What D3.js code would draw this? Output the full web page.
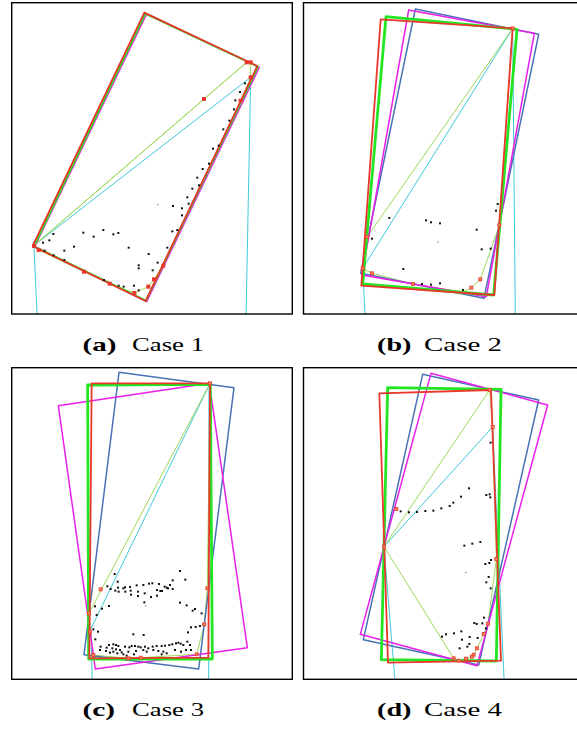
<!DOCTYPE html>
<html><head><meta charset="utf-8">
<script src="https://cdn.jsdelivr.net/npm/d3@7"></script>
<style>html,body{margin:0;padding:0;background:#fff;}svg{display:block;}</style>
</head><body>
<svg id="chart" width="577" height="729"></svg>
<script>
// ---------- DATA (units: 1/3 pixel within each panel's local window) ----------
const panels = ["a", "b", "c", "d"];
const captionLetters = ["(a)", "(b)", "(c)", "(d)"];
const captionTexts = ["Case 1", "Case 2", "Case 3", "Case 4"];

// Panel (a)
const a_rectMagenta = [[410,42],[748,202],[410,905],[74,740]];
const a_rectGreen   = [[406,41],[744,200],[408,902],[72,739]];
const a_rectRed     = [[403,38],[742,198],[407,903],[68,738]];
const a_rectBlue    = [];
const a_diagGreen = [[70,738],[710,187]];
const a_diagCyan  = [[70,738],[722,232]];
const a_cyanDown  = [[[72,740],[82,960]], [[722,232],[708,960]]];
const a_hull = [[70,738],[86,750],[222,815],[299,851],[373,879],[415,860],[432,838],[460,797],[692,302],[722,232],[720,187],[710,187]];
const a_red = [[72,738],[86,750],[222,815],[299,851],[373,879],[415,860],[432,838],[460,797],[692,302],[722,232],[710,187],[722,187],[582,297]];
const a_pts = [[705,250],[690,276],[676,301],[672,328],[658,362],[640,388],[626,437],[609,446],[597,491],[578,507],[562,533],[567,556],[547,566],[532,592],[536,611],[516,625],[489,618],[516,646],[502,690],[487,694],[472,743],[416,762],[443,788],[428,811],[386,796],[386,805],[372,857],[356,743],[325,699],[310,703],[280,690],[251,710],[220,698],[192,740],[163,752],[163,780],[130,702],[118,721],[99,728],[104,752],[131,766],[282,840],[326,857],[341,860],[386,871]];
const a_gray = [[443,614]];

// Panel (b)
const b_rectBlue    = [[340,27],[710,103],[546,895],[176,820]];
const b_rectMagenta = [[320,30],[697,100],[553,890],[180,825]];
const b_rectGreen   = [[252,50],[645,88],[575,885],[182,852]];
const b_rectRed     = [[236,58],[632,85],[577,885],[178,857]];
const b_diagGreen = [[196,710],[632,85]];
const b_diagCyan  = [[182,805],[632,85]];
const b_cyanDown  = [[[182,805],[190,960]], [[632,85],[640,960]]];
const b_hull = [[196,710],[182,805],[210,820],[333,852],[483,876],[508,863],[535,838],[592,676],[632,85]];
const b_red = [[196,710],[182,805],[210,820],[333,852],[508,863],[535,838],[592,676],[632,85]];
const b_pts = [[587,612],[582,632],[262,654],[372,661],[387,667],[414,670],[524,689],[210,716],[539,748],[566,746],[304,807],[360,852],[387,854],[414,850],[483,870]];
const b_gray = [[408,726]];

// Panel (c)
const c_rectBlue    = [[327,22],[672,68],[566,912],[222,869]];
const c_rectMagenta = [[145,122],[598,55],[712,848],[256,912]];
const c_rectGreen   = [[233,60],[601,58],[607,882],[236,882]];
const c_rectRed     = [[245,55],[600,55],[595,878],[238,880]];
const c_diagGreen = [[237,745],[600,55]];
const c_diagCyan  = [[241,795],[600,55]];
const c_cyanDown  = [[[243,800],[247,960]], [[597,60],[596,960]]];
const c_hull = [[237,745],[241,795],[250,870],[355,880],[392,878],[560,868],[583,778],[592,670],[600,55]];
const c_red = [[272,673],[237,745],[240,800],[250,870],[355,880],[392,878],[560,868],[583,778],[592,670],[600,55]];
const c_pts = [[510,618],[314,627],[323,650],[526,644],[488,646],[480,660],[474,670],[464,665],[447,657],[427,655],[417,656],[400,660],[380,661],[360,666],[345,667],[340,670],[324,668],[292,664],[302,672],[316,677],[326,680],[346,680],[362,677],[363,689],[384,693],[384,680],[404,685],[423,696],[441,692],[451,678],[441,675],[456,678],[470,668],[488,672],[403,712],
  [510,713],[530,721],[555,732],[548,737],[575,745],[297,723],[276,731],[255,724],[260,750],
  [580,778],[570,783],[557,786],[543,787],[534,802],[250,793],[264,800],[256,823],[370,808],[401,810],
  [272,845],[290,848],[297,840],[310,838],[318,840],[325,843],[307,850],[318,853],[330,855],[345,845],[358,847],[365,843],[375,843],[385,845],[392,847],[405,845],[415,850],[428,845],[440,843],[455,843],[465,842],[478,840],[487,838],[498,835],[505,833],[512,836],[520,840],[532,830],[540,840],[270,855],[288,858],[300,863],[322,865],[340,868],[350,872],[372,868],[400,855],[410,860],[430,855],[445,858],[460,860],[470,865],[495,855],[513,860],[528,855],[543,855],[455,868],[378,858],[355,860],[335,862],[310,860]];
const c_gray = [[407,722]];

// Panel (d)
const d_rectBlue    = [[362,28],[710,105],[530,900],[184,824]];
const d_rectMagenta = [[387,25],[737,120],[525,902],[175,808]];
const d_rectGreen   = [[257,68],[597,73],[583,888],[238,884]];
const d_rectRed     = [[232,85],[567,75],[597,887],[258,893]];
const d_diagGreen = [[246,545],[563,75]];
const d_diagCyan  = [[246,545],[572,186]];
const d_lowGreen  = [[246,545],[455,880]];
const d_cyanDown  = [[[246,545],[280,960]], [[572,186],[607,960]]];
const d_hull = [[455,880],[470,887],[492,881],[510,875],[515,869],[525,850],[545,807],[558,776],[583,582],[572,186],[563,75]];
const d_red = [[246,545],[283,432],[563,75],[572,186],[583,582],[558,776],[545,807],[525,850],[515,869],[510,875],[492,881],[470,887],[455,880]];
const d_pts = [[566,233],[501,370],[553,390],[563,388],[565,397],[477,395],[454,413],[443,423],[418,430],[394,437],[370,438],[345,441],[321,442],[296,439],[285,433],[487,542],[511,536],[535,531],[567,585],[550,597],[562,594],[560,636],[553,652],[566,670],[546,758],[517,774],[524,777],[541,775],[552,790],[478,799],[456,805],[432,808],[420,815],[480,824],[503,816],[527,819],[502,837],[496,845],[473,850]];
const d_gray = [[491,623]];

// ---------- LAYOUT / STYLE ----------
const panelOrigin = {a:[10,0], b:[302,0], c:[10,365], d:[302,365]};
const panelFrame  = {a:[11.7,2.7,292.3,314], b:[303.5,2.7,600,314], c:[11.7,367.7,292.3,679.3], d:[303.5,367.7,600,679.3]};
const captionPos  = {a:[82.5,350.5,34,132,72], b:[377,350.5,34.5,424,78], c:[82.5,715.5,32.5,132,72], d:[377,715.5,34.5,424,78]};
const col = {red:"#e8372b", green:"#22e622", magenta:"#ea1fea", blue:"#4872b4", lgreen:"#9ed85a", cyan:"#3ec8d8"};

const data = {
  a:{blue:[],magenta:a_rectMagenta,green:a_rectGreen,red:a_rectRed,dg:a_diagGreen,dc:a_diagCyan,lg:null,cd:a_cyanDown,hull:a_hull,rs:a_red,pts:a_pts,gray:a_gray,closeHull:true},
  b:{blue:b_rectBlue,magenta:b_rectMagenta,green:b_rectGreen,red:b_rectRed,dg:b_diagGreen,dc:b_diagCyan,lg:null,cd:b_cyanDown,hull:b_hull,rs:b_red,pts:b_pts,gray:b_gray,closeHull:false},
  c:{blue:c_rectBlue,magenta:c_rectMagenta,green:c_rectGreen,red:c_rectRed,dg:c_diagGreen,dc:c_diagCyan,lg:null,cd:c_cyanDown,hull:c_hull,rs:c_red,pts:c_pts,gray:c_gray,closeHull:false},
  d:{blue:d_rectBlue,magenta:d_rectMagenta,green:d_rectGreen,red:d_rectRed,dg:d_diagGreen,dc:d_diagCyan,lg:d_lowGreen,cd:d_cyanDown,hull:d_hull,rs:d_red,pts:d_pts,gray:d_gray,closeHull:false}
};

const svg = d3.select("#chart");
const defs = svg.append("defs");

panels.forEach((p, i) => {
  const [ox, oy] = panelOrigin[p];
  const [fx0, fy0, fx1, fy1] = panelFrame[p];
  const x = d3.scaleLinear().domain([0, 846]).range([ox, ox + 282]);
  const y = d3.scaleLinear().domain([0, 954]).range([oy, oy + 318]);
  const D = data[p];

  defs.append("clipPath").attr("id", "clip-" + p)
    .append("rect").attr("x", fx0).attr("y", fy0).attr("width", fx1 - fx0).attr("height", fy1 - fy0);

  const g = svg.append("g").attr("clip-path", `url(#clip-${p})`);
  const line = d3.line().x(d => x(d[0])).y(d => y(d[1]));
  const poly = pts => line(pts) + "Z";

  // thin lines
  D.cd.forEach(seg => g.append("path").attr("d", line(seg)).attr("fill","none").attr("stroke", col.cyan).attr("stroke-width", 1));
  g.append("path").attr("d", line(D.dc)).attr("fill","none").attr("stroke", col.cyan).attr("stroke-width", 1);
  g.append("path").attr("d", line(D.dg)).attr("fill","none").attr("stroke", col.lgreen).attr("stroke-width", 1);
  if (D.lg) g.append("path").attr("d", line(D.lg)).attr("fill","none").attr("stroke", col.lgreen).attr("stroke-width", 1);
  g.append("path").attr("d", D.closeHull ? poly(D.hull) : line(D.hull)).attr("fill","none").attr("stroke", col.lgreen).attr("stroke-width", 1);

  // rectangles
  if (D.blue.length) g.append("path").attr("d", poly(D.blue)).attr("fill","none").attr("stroke", col.blue).attr("stroke-width", 1.5).attr("stroke-linejoin","round");
  g.append("path").attr("d", poly(D.magenta)).attr("fill","none").attr("stroke", col.magenta).attr("stroke-width", 1.5).attr("stroke-linejoin","round");
  g.append("path").attr("d", poly(D.green)).attr("fill","none").attr("stroke", col.green).attr("stroke-width", p === "a" ? 2 : 2.8).attr("stroke-linejoin","round");
  g.append("path").attr("d", poly(D.red)).attr("fill","none").attr("stroke", col.red).attr("stroke-width", 1.8).attr("stroke-linejoin","round");

  // black points
  g.selectAll(null).data(D.pts).enter().append("rect")
    .attr("x", d => x(d[0]) - 1).attr("y", d => y(d[1]) - 1)
    .attr("width", 2).attr("height", 2).attr("fill", "#111");
  g.selectAll(null).data(D.gray).enter().append("rect")
    .attr("x", d => x(d[0]) - 0.7).attr("y", d => y(d[1]) - 0.7)
    .attr("width", 1.4).attr("height", 1.4).attr("fill", "#999");

  // red squares
  const rsz = p === "a" ? 4 : 3;
  g.selectAll(null).data(D.rs).enter().append("rect")
    .attr("x", d => x(d[0]) - rsz/2).attr("y", d => y(d[1]) - rsz/2)
    .attr("width", rsz).attr("height", rsz).attr("fill", p === "a" ? col.red : "#f08a60")
    .attr("stroke", col.red).attr("stroke-width", p === "a" ? 0 : 0.8);

  // frame
  svg.append("rect").attr("x", fx0).attr("y", fy0).attr("width", fx1 - fx0).attr("height", fy1 - fy0)
    .attr("fill","none").attr("stroke","#000").attr("stroke-width", 1.4);

  // caption
  const [lx, by, lw, tx, tw] = captionPos[p];
  svg.append("text").attr("x", lx).attr("y", by)
    .attr("font-family", "'Liberation Serif', 'DejaVu Serif', serif").attr("font-size", 19.5)
    .attr("font-weight", "bold").attr("textLength", lw).attr("lengthAdjust", "spacingAndGlyphs")
    .text(captionLetters[i]);
  svg.append("text").attr("x", tx).attr("y", by)
    .attr("font-family", "'Liberation Serif', 'DejaVu Serif', serif").attr("font-size", 19.5)
    .attr("textLength", tw).attr("lengthAdjust", "spacingAndGlyphs")
    .text(captionTexts[i]);
});
</script>
</body></html>
